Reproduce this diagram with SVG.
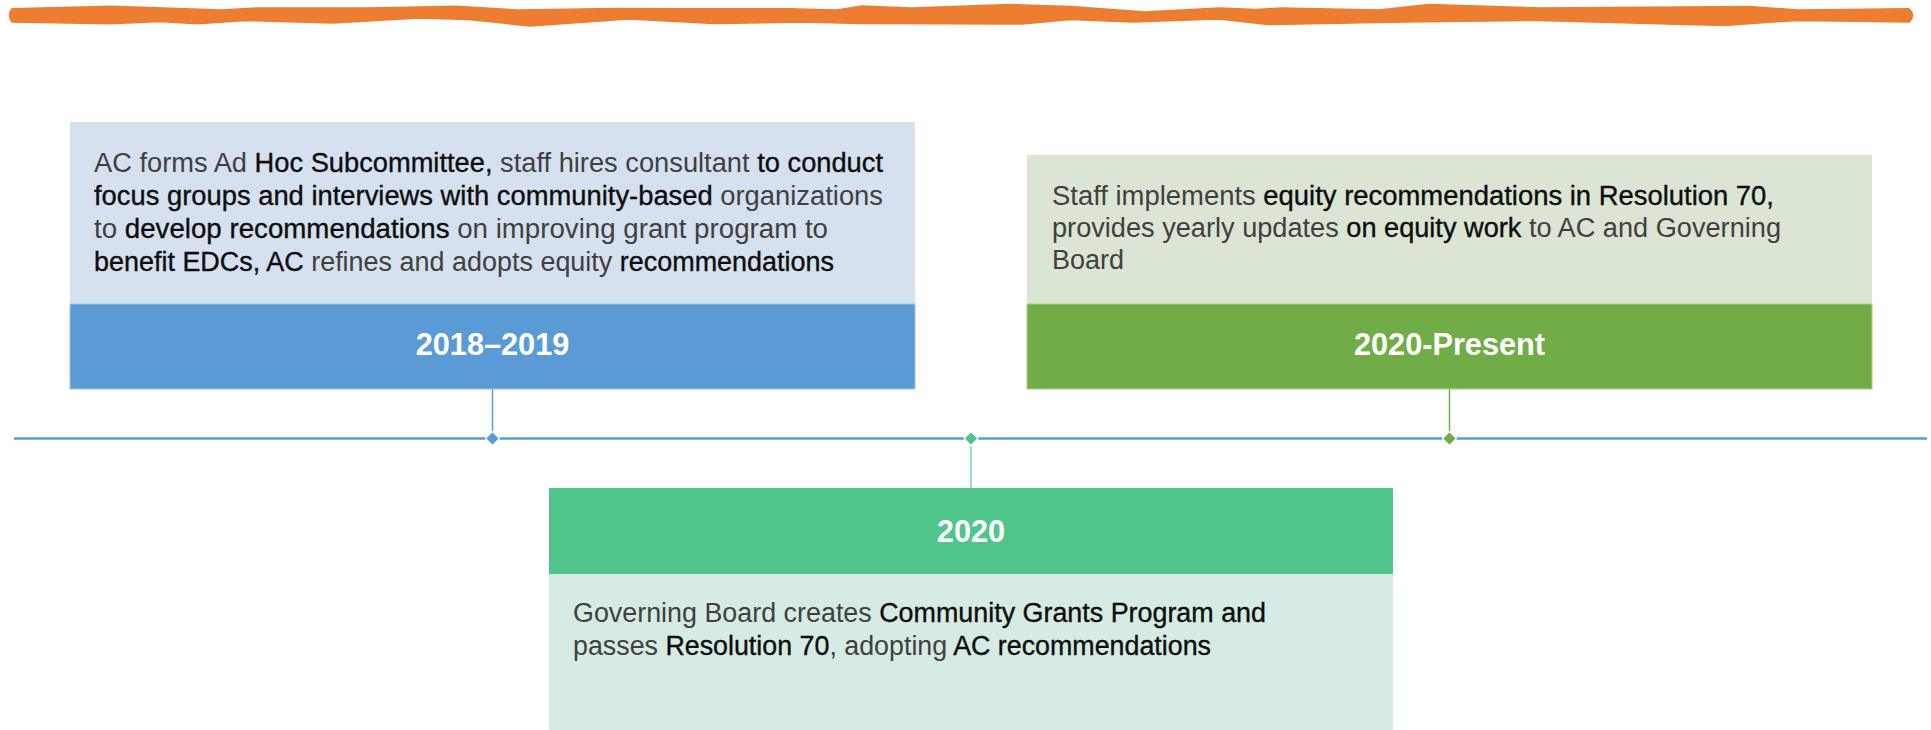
<svg xmlns="http://www.w3.org/2000/svg" width="1931" height="730" viewBox="0 0 1931 730">
<style>
.body{font-family:"Liberation Sans",Arial,sans-serif;font-size:27px;fill:#404040}
.dk{fill:#0d0d0d;stroke:#0d0d0d;stroke-width:0.35}
.hdr{font-family:"Liberation Sans",Arial,sans-serif;font-size:30.7px;font-weight:bold;fill:#ffffff;text-anchor:middle}
.tl{stroke:#5B9BD5;stroke-width:2.5;fill:none}
</style>
<rect width="1931" height="730" fill="#ffffff"/>
<g id="brush">
<path fill="#ED7D31" stroke="#ED7D31" stroke-width="1.5" stroke-linejoin="round" d="M12,8.8 L111,6.3 L222,10 L259,7.9 L369,7.9 L456,6.3 L517,10 L616,8.4 L677,8.8 L788,8.8 L837,10 L862,5.9 L911,7.9 L1010,4.6 L1071,6.6 L1145,12.1 L1219,7.9 L1256,9.6 L1281,7.9 L1379,10 L1429,4.6 L1539,7.9 L1749,6.6 L1798,10 L1909,8.8 Q1916,15 1909,22.1 L1798,20.4 L1724,25.4 L1539,20.4 L1404,22.1 L1268,24.6 L1219,19.1 L1133,22.1 L1071,19.6 L1022,24.1 L862,23.4 L800,22.1 L714,23.4 L628,19.1 L530,25.9 L468,19.6 L419,17.9 L333,22.9 L246,20.4 L197,23.8 L160,21.6 L111,23.8 L12,22.1 Q7,15 12,8.8 Z"/>
</g>
<g id="connectors">
<line class="tl" x1="14" y1="438.5" x2="1927" y2="438.5"/>
<line x1="492.5" y1="389" x2="492.5" y2="432" stroke="#5B9BD5" stroke-width="1.5"/>
<line x1="971" y1="445" x2="971" y2="488" stroke="#7FD6AB" stroke-width="1.5"/>
<line x1="1449.5" y1="389" x2="1449.5" y2="432" stroke="#70AD47" stroke-width="1.5"/>
<path d="M492.5,431.5 L499.5,438.5 L492.5,445.5 L485.5,438.5 Z" fill="#5B9BD5" stroke="#ffffff" stroke-width="1.2"/>
<path d="M971,431.5 L978,438.5 L971,445.5 L964,438.5 Z" fill="#4FC48B" stroke="#ffffff" stroke-width="1.2"/>
<path d="M1449.5,431.5 L1456.5,438.5 L1449.5,445.5 L1442.5,438.5 Z" fill="#70AD47" stroke="#ffffff" stroke-width="1.2"/>
</g>
<g id="node-2018-2019">
<rect x="70" y="122" width="845" height="182" fill="#D6E1EF"/>
<rect x="70" y="304" width="845" height="85" fill="#5B9BD5" stroke="#9DC3E6" stroke-width="1"/>
<text class="body" x="94" y="172" textLength="789" lengthAdjust="spacingAndGlyphs">AC forms Ad <tspan class="dk">Hoc Subcommittee,</tspan> staff hires consultant <tspan class="dk">to conduct</tspan></text>
<text class="body" x="94" y="205" textLength="789" lengthAdjust="spacingAndGlyphs"><tspan class="dk">focus groups and interviews with community-based</tspan> organizations</text>
<text class="body" x="94" y="238" textLength="734" lengthAdjust="spacingAndGlyphs">to <tspan class="dk">develop recommendations</tspan> on improving grant program to</text>
<text class="body" x="94" y="271" textLength="740" lengthAdjust="spacingAndGlyphs"><tspan class="dk">benefit EDCs, AC</tspan> refines and adopts equity <tspan class="dk">recommendations</tspan></text>
<text class="hdr" x="492.5" y="355">2018–2019</text>
</g>
<g id="node-2020-present">
<rect x="1027" y="155" width="845" height="149" fill="#DAE5D4"/>
<rect x="1027" y="304" width="845" height="85" fill="#70AD47" stroke="#A9D18E" stroke-width="1"/>
<text class="body" x="1052" y="205" textLength="722" lengthAdjust="spacingAndGlyphs">Staff implements <tspan class="dk">equity recommendations in Resolution 70,</tspan></text>
<text class="body" x="1052" y="237" textLength="729" lengthAdjust="spacingAndGlyphs">provides yearly updates <tspan class="dk">on equity work</tspan> to AC and Governing</text>
<text class="body" x="1052" y="269" textLength="72" lengthAdjust="spacingAndGlyphs">Board</text>
<text class="hdr" x="1449.5" y="355">2020-Present</text>
</g>
<g id="node-2020">
<rect x="549" y="488" width="844" height="86" fill="#4FC48B"/>
<rect x="549" y="574" width="844" height="156" fill="#D5EBE3"/>
<text class="hdr" x="971" y="542">2020</text>
<text class="body" x="573" y="622" textLength="693" lengthAdjust="spacingAndGlyphs">Governing Board creates <tspan class="dk">Community Grants Program and</tspan></text>
<text class="body" x="573" y="655" textLength="638" lengthAdjust="spacingAndGlyphs">passes <tspan class="dk">Resolution 70</tspan>, adopting <tspan class="dk">AC recommendations</tspan></text>
</g>
</svg>
